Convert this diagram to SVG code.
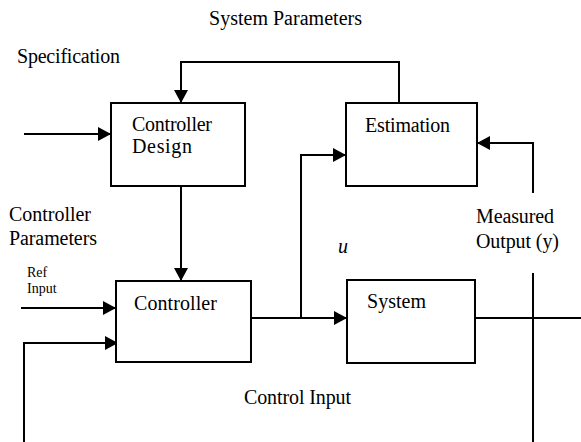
<svg xmlns="http://www.w3.org/2000/svg" width="581" height="442" viewBox="0 0 581 442">
<style>
.box{fill:#fff;stroke:#000;stroke-width:2}
.ln{fill:none;stroke:#000;stroke-width:2}
text{font-family:"Liberation Serif","Times New Roman",serif;font-size:20px;fill:#000}
.sm{font-size:14px}
</style>
<defs>
<marker id="ah" markerUnits="userSpaceOnUse" markerWidth="13" markerHeight="14" refX="13" refY="7" orient="auto">
<path d="M0,0 L13,7 L0,14 z" fill="#000"/>
</marker>
</defs>
<g id="connectors">
<path class="ln" d="M24,134 H111" marker-end="url(#ah)"/>
<path class="ln" d="M399,103 V62 H181 V103" marker-end="url(#ah)"/>
<path class="ln" d="M181,186 V281" marker-end="url(#ah)"/>
<path class="ln" d="M21,308 H116" marker-end="url(#ah)"/>
<path class="ln" d="M24,442 V343 H118" marker-end="url(#ah)"/>
<path class="ln" d="M251,318 H347" marker-end="url(#ah)"/>
<path class="ln" d="M301,318 V155 H346" marker-end="url(#ah)"/>
<path class="ln" d="M533,193 V143 H477" marker-end="url(#ah)"/>
<path class="ln" d="M475,318 H581"/>
<path class="ln" d="M533,273 V442"/>
</g>
<g id="controller-design">
<rect class="box" x="111" y="103" width="134" height="83"/>
<text x="132" y="131" textLength="80">Controller</text>
<text x="132" y="153" textLength="60">Design</text>
</g>
<g id="estimation">
<rect class="box" x="346" y="103" width="131" height="83"/>
<text x="365" y="132" textLength="85">Estimation</text>
</g>
<g id="controller">
<rect class="box" x="116" y="281" width="135" height="81"/>
<text x="134" y="310" textLength="83">Controller</text>
</g>
<g id="system">
<rect class="box" x="347" y="280" width="128" height="83"/>
<text x="367" y="308" textLength="59">System</text>
</g>
<g id="labels">
<text x="209" y="25" textLength="153">System Parameters</text>
<text x="17" y="63" textLength="103">Specification</text>
<text x="9" y="221" textLength="82">Controller</text>
<text x="9" y="245" textLength="88">Parameters</text>
<text class="sm" x="27" y="277">Ref</text>
<text class="sm" x="27" y="293">Input</text>
<text x="338" y="253" font-style="italic">u</text>
<text x="476" y="223" textLength="78">Measured</text>
<text x="476" y="248" textLength="83">Output (y)</text>
<text x="244" y="404" textLength="107">Control Input</text>
</g>
</svg>
